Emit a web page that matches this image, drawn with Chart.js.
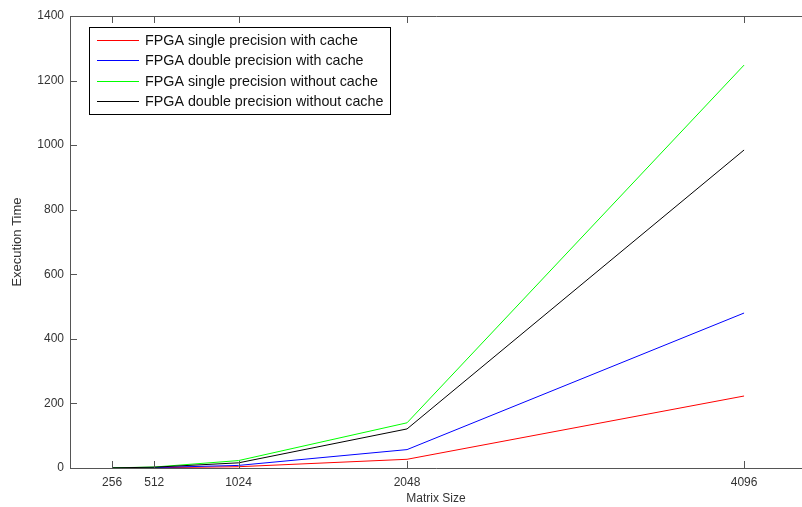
<!DOCTYPE html>
<html>
<head>
<meta charset="utf-8">
<script src="https://cdn.jsdelivr.net/npm/chart.js@4.4.1/dist/chart.umd.min.js"></script>
<style>
    html, body { margin: 0; padding: 0; background: #fff; }
    #execChart { display: block; }
</style>
</head>
<body>
<canvas id="execChart" width="802" height="507"></canvas>
<script>
const matrixSizes = [256, 512, 1024, 2048, 4096];
const yTickValues = [0, 200, 400, 600, 800, 1000, 1200, 1400];

const singleWithCache = [0.2, 0.8, 4, 27, 223];
const doubleWithCache = [0.3, 1.5, 8, 57, 480];
const singleNoCache = [0.5, 3, 23, 140, 1248];
const doubleNoCache = [0.4, 2.5, 16, 121, 985];

const seriesLabels = [
    'FPGA single precision with cache',
    'FPGA double precision with cache',
    'FPGA single precision without cache',
    'FPGA double precision without cache'
];
const seriesColors = ['#ff0000', '#0000ff', '#00ff00', '#000000'];

const axisColor = '#555';
const textColor = '#333';
const fontFamily = 'Arial, "Liberation Sans", Helvetica, sans-serif';

function toPoints(values) {
    return matrixSizes.map((size, i) => ({ x: size, y: values[i] }));
}

// MATLAB-style box: inward ticks on bottom/top and left
const matlabAxes = {
    id: 'matlabAxes',
    afterDraw(chart) {
        const { ctx, chartArea: area, scales } = chart;
        const tickLen = 7;
        ctx.save();
        ctx.strokeStyle = axisColor;
        ctx.lineWidth = 1;
        ctx.beginPath();
        ctx.moveTo(area.right, area.top + 0.5);
        ctx.lineTo(area.left + 0.5, area.top + 0.5);
        ctx.lineTo(area.left + 0.5, area.bottom + 0.5);
        ctx.lineTo(area.right, area.bottom + 0.5);
        ctx.stroke();

        ctx.beginPath();
        scales.x.ticks.forEach(t => {
            const px = Math.round(scales.x.getPixelForValue(t.value)) + 0.5;
            ctx.moveTo(px, area.bottom);
            ctx.lineTo(px, area.bottom - tickLen);
            ctx.moveTo(px, area.top);
            ctx.lineTo(px, area.top + tickLen);
        });
        scales.y.ticks.forEach(t => {
            const py = Math.round(scales.y.getPixelForValue(t.value)) + 0.5;
            ctx.moveTo(area.left, py);
            ctx.lineTo(area.left + tickLen, py);
        });
        ctx.stroke();
        ctx.restore();
    }
};

// legend box in the upper left of the axes
const boxLegend = {
    id: 'boxLegend',
    afterDraw(chart) {
        const { ctx } = chart;
        const left = 89, top = 27, rowH = 20.3, lineLen = 42;
        ctx.save();
        ctx.font = '14.3px ' + fontFamily;
        const textW = Math.max(...chart.data.datasets.map(d => ctx.measureText(d.label).width));
        const width = Math.round(56 + textW + 7);
        const height = Math.round(rowH * chart.data.datasets.length + 6);
        ctx.fillStyle = '#fff';
        ctx.fillRect(left, top, width, height);
        ctx.strokeStyle = '#000';
        ctx.lineWidth = 1;
        ctx.strokeRect(left + 0.5, top + 0.5, width, height);
        ctx.textBaseline = 'middle';
        chart.data.datasets.forEach((d, i) => {
            const y = Math.round(top + 13 + i * rowH) + 0.5;
            ctx.strokeStyle = d.borderColor;
            ctx.beginPath();
            ctx.moveTo(left + 8, y);
            ctx.lineTo(left + 8 + lineLen, y);
            ctx.stroke();
            ctx.fillStyle = '#111';
            ctx.fillText(d.label, left + 56, y + 1);
        });
        ctx.restore();
    }
};

const ctx = document.getElementById('execChart').getContext('2d');
new Chart(ctx, {
    type: 'line',
    data: {
        datasets: [
            { label: seriesLabels[0], data: toPoints(singleWithCache), borderColor: seriesColors[0], order: 4 },
            { label: seriesLabels[1], data: toPoints(doubleWithCache), borderColor: seriesColors[1], order: 3 },
            { label: seriesLabels[2], data: toPoints(singleNoCache), borderColor: seriesColors[2], order: 2 },
            { label: seriesLabels[3], data: toPoints(doubleNoCache), borderColor: seriesColors[3], order: 1 }
        ]
    },
    options: {
        responsive: false,
        animation: false,
        layout: { padding: { top: 16, right: 0, left: 0, bottom: 0 } },
        elements: {
            line: { borderWidth: 1, tension: 0, fill: false },
            point: { radius: 0, hoverRadius: 0 }
        },
        plugins: {
            legend: { display: false },
            tooltip: { enabled: false }
        },
        scales: {
            x: {
                type: 'linear',
                min: 0,
                max: 4448,
                afterBuildTicks: scale => {
                    scale.ticks = matrixSizes.map(v => ({ value: v }));
                },
                afterFit: scale => { scale.height = 39; },
                grid: { display: false, drawTicks: false },
                border: { display: false },
                ticks: {
                    color: textColor,
                    font: { size: 12, family: fontFamily },
                    padding: 7,
                    maxRotation: 0,
                    autoSkip: false,
                    callback: v => String(v)
                },
                title: {
                    display: true,
                    text: 'Matrix Size',
                    color: textColor,
                    font: { size: 12, family: fontFamily },
                    padding: { top: 0, bottom: 1 }
                }
            },
            y: {
                min: 0,
                max: 1400,
                afterBuildTicks: scale => {
                    scale.ticks = yTickValues.map(v => ({ value: v }));
                },
                afterFit: scale => { scale.width = 70; },
                grid: { display: false, drawTicks: false },
                border: { display: false },
                ticks: {
                    color: textColor,
                    font: { size: 12, family: fontFamily },
                    padding: 6,
                    callback: v => String(v)
                },
                title: {
                    display: true,
                    text: 'Execution Time',
                    color: textColor,
                    font: { size: 13, family: fontFamily },
                    padding: { top: 10, bottom: 0 }
                }
            }
        }
    },
    plugins: [matlabAxes, boxLegend]
});
</script>
</body>
</html>
